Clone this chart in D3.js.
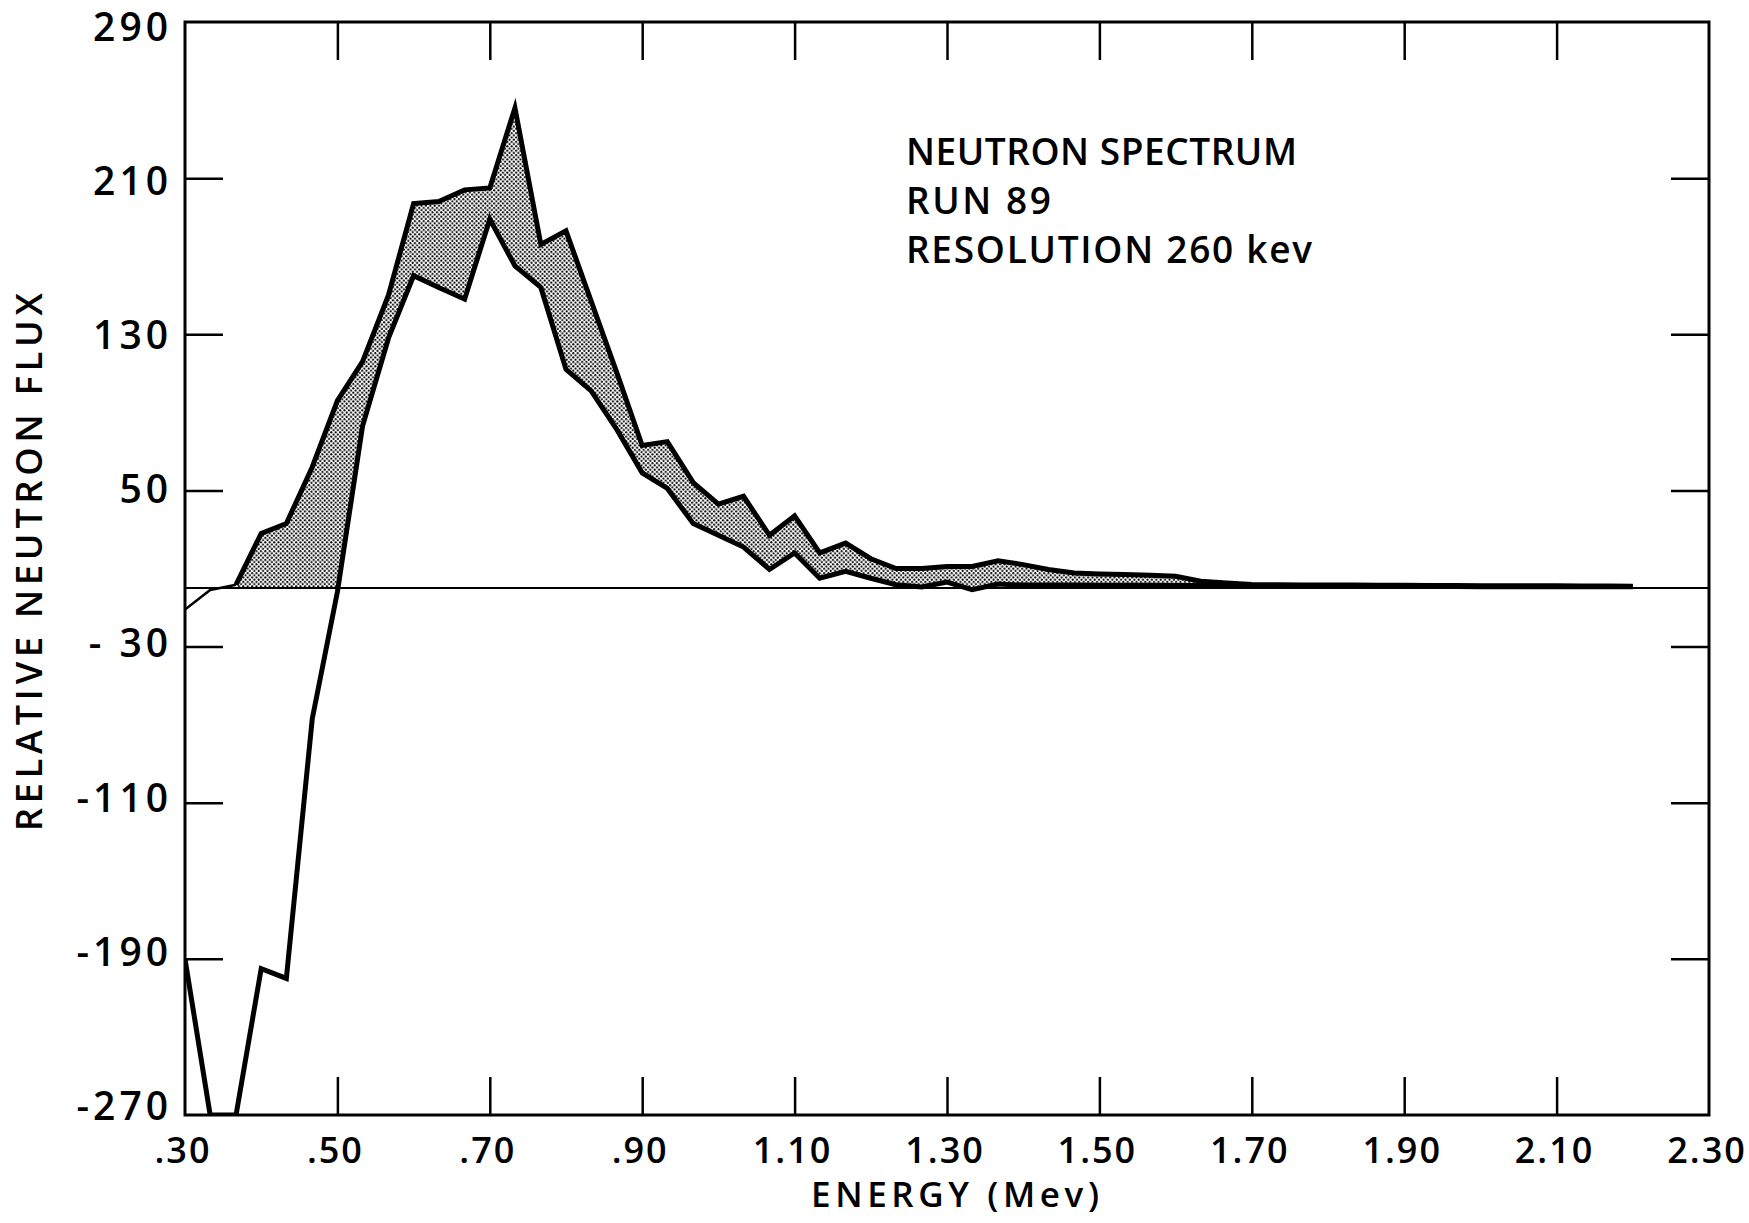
<!DOCTYPE html>
<html>
<head>
<meta charset="utf-8">
<script src="https://cdnjs.cloudflare.com/ajax/libs/d3/7.8.5/d3.min.js"></script>
<style>
  body { margin: 0; background: #fff; }
  text { font-family: "Open Sans", "DejaVu Sans", sans-serif; font-weight: 600; fill: #000; }
</style>
</head>
<body>
<div id="chart"></div>
<script>
// energies (Mev) of the plotted points
var energy = [0.300, 0.333, 0.367, 0.400, 0.433, 0.467, 0.500, 0.533, 0.567, 0.600,
  0.633, 0.667, 0.700, 0.733, 0.767, 0.800, 0.833, 0.867, 0.900, 0.933,
  0.967, 1.000, 1.033, 1.067, 1.100, 1.133, 1.167, 1.200, 1.233, 1.267,
  1.300, 1.333, 1.367, 1.400, 1.433, 1.467, 1.500, 1.533, 1.567, 1.600,
  1.633, 1.667, 1.700, 1.733, 1.767, 1.800, 1.833, 1.867, 1.900, 1.933,
  1.967, 2.000, 2.033, 2.067, 2.100, 2.133, 2.167, 2.200];

// upper edge of the band
var upper = [-11, -1, 1.7, 28, 33, 62, 96, 116, 150, 197,
  198, 204, 205, 246, 176, 183, 147, 110, 73, 75,
  54, 43, 47, 27, 37, 18, 23, 15, 10, 10,
  11, 11, 14, 12, 9.5, 7.7, 7.2, 6.9, 6.5, 6,
  3.5, 2.6, 1.8, 1.7, 1.6, 1.5, 1.5, 1.4, 1.4, 1.3,
  1.3, 1.2, 1.2, 1.1, 1.1, 1.0, 1.0, 0.9];

// lower edge of the band (clipped at -270 by the plotter)
var lower = [-190, -270, -270, -195, -200, -67, -2, 83, 128, 160,
  154, 148, 189, 165, 154, 112, 101, 81, 59, 51,
  33, 27, 21, 9.5, 18, 5, 8.6, 5, 1.7, 0.5,
  3, -0.8, 2, 1.5, 1.5, 1.5, 1.4, 1.4, 1.4, 1.3,
  1.3, 1.2, 1.0, 1.0, 0.9, 0.9, 0.9, 0.8, 0.8, 0.8,
  0.8, 0.7, 0.7, 0.7, 0.7, 0.7, 0.6, 0.6];

var xTicks = [0.30, 0.50, 0.70, 0.90, 1.10, 1.30, 1.50, 1.70, 1.90, 2.10, 2.30];
var xTickLabels = [".30", ".50", ".70", ".90", "1.10", "1.30", "1.50", "1.70", "1.90", "2.10", "2.30"];
var yTicks = [290, 210, 130, 50, -30, -110, -190, -270];
var yTickLabels = ["290", "210", "130", "50", "- 30", "-110", "-190", "-270"];

var notes = ["NEUTRON SPECTRUM", "RUN 89", "RESOLUTION 260 kev"];

var W = 1749, H = 1223;
var margin = {top: 22, right: 40, bottom: 108, left: 185};
var width = W - margin.left - margin.right,
    height = H - margin.top - margin.bottom;

var data = energy.map(function(e, i) { return {e: e, hi: upper[i], lo: lower[i]}; });

var x = d3.scaleLinear().domain([0.30, 2.30]).range([0, width]);
var y = d3.scaleLinear().domain([-270, 290]).range([height, 0]);
// hand lettered labels sit a little inside the end ticks
var yLab = d3.scaleLinear().domain([-270, 290]).range([height - 9, 4.5]);

var svg = d3.select("#chart").append("svg")
    .attr("width", W)
    .attr("height", H);

var defs = svg.append("defs");
var pat = defs.append("pattern")
    .attr("id", "dots")
    .attr("patternUnits", "userSpaceOnUse")
    .attr("width", 4.4).attr("height", 4.4);
pat.append("rect").attr("width", 4.4).attr("height", 4.4).attr("fill", "#fff");
pat.append("circle").attr("cx", 1.1).attr("cy", 1.1).attr("r", 1.05).attr("fill", "#000");
pat.append("circle").attr("cx", 3.3).attr("cy", 3.3).attr("r", 1.05).attr("fill", "#000");

defs.append("clipPath").attr("id", "clip")
  .append("rect").attr("width", width).attr("height", height);

var g = svg.append("g")
    .attr("transform", "translate(" + margin.left + "," + margin.top + ")");

var plot = g.append("g").attr("clip-path", "url(#clip)");

// shaded band between upper curve and max(lower, 0)
var band = d3.area()
    .defined(function(d) { return d.hi > 0; })
    .x(function(d) { return x(d.e); })
    .y0(function(d) { return y(Math.max(d.lo, 0)); })
    .y1(function(d) { return y(d.hi); });

plot.append("path")
    .datum(data)
    .attr("d", band)
    .style("fill", "url(#dots)")
    .style("stroke", "none");

// zero line
plot.append("line")
    .attr("x1", 0).attr("x2", width)
    .attr("y1", y(0)).attr("y2", y(0))
    .style("stroke", "#000").style("stroke-width", 2);

var hiLine = d3.line().x(function(d) { return x(d.e); }).y(function(d) { return y(d.hi); });
var loLine = d3.line().x(function(d) { return x(d.e); }).y(function(d) { return y(d.lo); });

plot.append("path")
    .datum(data.slice(0, 3))
    .attr("d", hiLine)
    .style("fill", "none").style("stroke", "#000").style("stroke-width", 2.5);

plot.append("path")
    .datum(data.slice(2))
    .attr("d", hiLine)
    .style("fill", "none").style("stroke", "#000").style("stroke-width", 5)
    .style("stroke-linejoin", "miter").style("stroke-miterlimit", 10);

plot.append("path")
    .datum(data)
    .attr("d", loLine)
    .style("fill", "none").style("stroke", "#000").style("stroke-width", 5)
    .style("stroke-linejoin", "miter").style("stroke-miterlimit", 10);

// frame
g.append("rect")
    .attr("width", width).attr("height", height)
    .style("fill", "none").style("stroke", "#000").style("stroke-width", 3);

// inward ticks on all four sides
var tickLen = 38;
var innerX = xTicks.slice(1, -1), innerY = yTicks.slice(1, -1);

g.append("g").attr("transform", "translate(0," + height + ")")
    .call(d3.axisBottom(x).tickValues(innerX).tickSize(-tickLen).tickFormat(""))
    .call(function(a) { a.select(".domain").remove(); });
g.append("g")
    .call(d3.axisTop(x).tickValues(innerX).tickSize(-tickLen).tickFormat(""))
    .call(function(a) { a.select(".domain").remove(); });
g.append("g")
    .call(d3.axisLeft(y).tickValues(innerY).tickSize(-tickLen).tickFormat(""))
    .call(function(a) { a.select(".domain").remove(); });
g.append("g").attr("transform", "translate(" + width + ",0)")
    .call(d3.axisRight(y).tickValues(innerY).tickSize(-tickLen).tickFormat(""))
    .call(function(a) { a.select(".domain").remove(); });
g.selectAll(".tick line").style("stroke", "#000").style("stroke-width", 2.5);

// tick labels
g.selectAll(".xlab")
    .data(xTicks)
    .enter().append("text")
    .attr("class", "xlab")
    .attr("x", function(d) { return x(d) - 2; })
    .attr("y", height + 48)
    .attr("text-anchor", "middle")
    .style("font-size", "36px")
    .style("letter-spacing", "2px")
    .text(function(d, i) { return xTickLabels[i]; });

g.selectAll(".ylab")
    .data(yTicks)
    .enter().append("text")
    .attr("class", "ylab")
    .attr("x", -13)
    .attr("y", function(d) { return yLab(d); })
    .attr("dy", "0.36em")
    .attr("text-anchor", "end")
    .style("font-size", "39px")
    .style("letter-spacing", "4px")
    .text(function(d, i) { return yTickLabels[i]; });

// axis titles
svg.append("text")
    .attr("x", 955).attr("y", 1207)
    .attr("text-anchor", "middle")
    .attr("textLength", 288).attr("lengthAdjust", "spacing")
    .style("font-size", "35px")
    .text("ENERGY (Mev)");

svg.append("text")
    .attr("transform", "translate(42,562) rotate(-90)")
    .attr("text-anchor", "middle")
    .attr("textLength", 538).attr("lengthAdjust", "spacing")
    .style("font-size", "36px")
    .text("RELATIVE NEUTRON FLUX");

// annotation
var noteLen = [391, 145, 406];
svg.selectAll(".note")
    .data(notes)
    .enter().append("text")
    .attr("class", "note")
    .attr("x", 906)
    .attr("y", function(d, i) { return 165 + i * 49; })
    .attr("textLength", function(d, i) { return noteLen[i]; })
    .attr("lengthAdjust", "spacing")
    .style("font-size", "37px")
    .text(function(d) { return d; });
</script>
</body>
</html>
